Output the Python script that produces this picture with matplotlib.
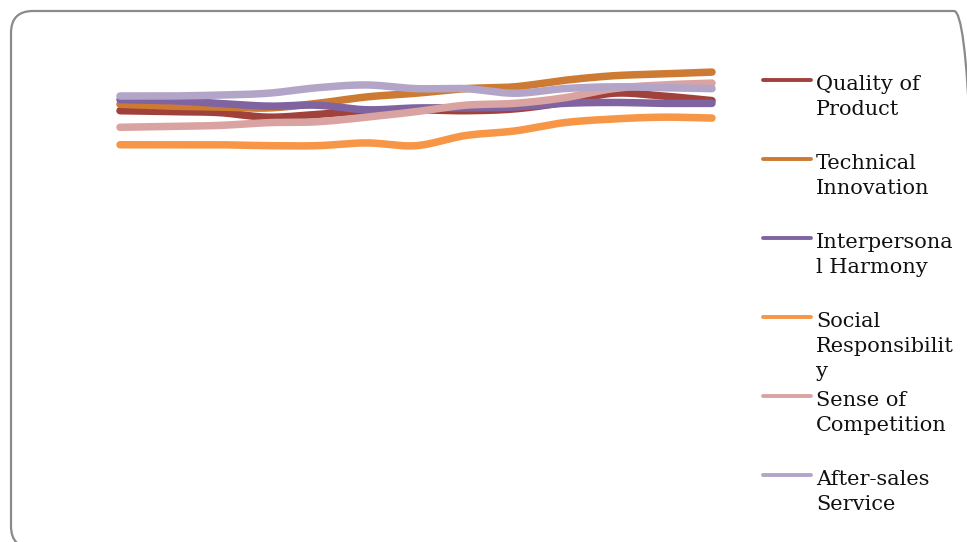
import numpy as np
import matplotlib
matplotlib.use("Agg")
import matplotlib.pyplot as plt
from matplotlib.lines import Line2D
from matplotlib.patches import FancyBboxPatch

# Survey periods (13 evenly spaced observations)
periods = list(range(13))

quality_of_product = [4.34, 4.33, 4.32, 4.27, 4.30, 4.34, 4.35, 4.34, 4.36, 4.43, 4.53, 4.50, 4.45]
technical_innovation = [4.41, 4.39, 4.38, 4.37, 4.42, 4.49, 4.53, 4.58, 4.60, 4.67, 4.72, 4.74, 4.76]
interpersonal_harmony = [4.46, 4.45, 4.42, 4.39, 4.40, 4.35, 4.37, 4.37, 4.38, 4.42, 4.43, 4.42, 4.42]
social_responsibility = [3.97, 3.97, 3.97, 3.96, 3.96, 3.99, 3.96, 4.07, 4.12, 4.21, 4.25, 4.27, 4.26]
sense_of_competition = [4.16, 4.17, 4.18, 4.21, 4.22, 4.27, 4.33, 4.40, 4.42, 4.48, 4.58, 4.62, 4.64]
after_sales_service = [4.50, 4.50, 4.51, 4.53, 4.59, 4.62, 4.58, 4.58, 4.53, 4.58, 4.60, 4.59, 4.58]

series_labels = [
    ["Quality of", "Product"],
    ["Technical", "Innovation"],
    ["Interpersona", "l Harmony"],
    ["Social", "Responsibilit", "y"],
    ["Sense of", "Competition"],
    ["After-sales", "Service"],
]
series_values = [quality_of_product, technical_innovation, interpersonal_harmony,
                 social_responsibility, sense_of_competition, after_sales_service]
series_colors = ["#A0413C", "#CD7B33", "#8064A2", "#F79646", "#D9A3A1", "#B3A5C8"]

W, H = 967, 542
fig = plt.figure(figsize=(W / 100, H / 100), dpi=100)
fig.patch.set_facecolor("white")

# Pixel-space overlay for the frame and legend (origin bottom-left)
overlay = fig.add_axes([0, 0, 1, 1], zorder=0)
overlay.set_xlim(0, W)
overlay.set_ylim(0, H)
overlay.axis("off")


def fx(px):
    return px / W


def fy(py):
    return 1 - py / H


def smooth(xs, ys, n=40):
    """Bezier smoothing through the points (tension 1/6, like spreadsheet smoothed lines)."""
    xs = np.asarray(xs, float)
    ys = np.asarray(ys, float)
    px = np.concatenate([[xs[0]], xs, [xs[-1]]])
    py = np.concatenate([[ys[0]], ys, [ys[-1]]])
    out_x, out_y = [], []
    t = np.linspace(0, 1, n)
    for i in range(1, len(px) - 2):
        p0x, p0y = px[i], py[i]
        p3x, p3y = px[i + 1], py[i + 1]
        c1x = p0x + (px[i + 1] - px[i - 1]) / 6
        c1y = p0y + (py[i + 1] - py[i - 1]) / 6
        c2x = p3x - (px[i + 2] - px[i]) / 6
        c2y = p3y - (py[i + 2] - py[i]) / 6
        b0 = (1 - t) ** 3
        b1 = 3 * (1 - t) ** 2 * t
        b2 = 3 * (1 - t) * t ** 2
        b3 = t ** 3
        out_x.append(b0 * p0x + b1 * c1x + b2 * c2x + b3 * p3x)
        out_y.append(b0 * p0y + b1 * c1y + b2 * c2y + b3 * p3y)
    return np.concatenate(out_x), np.concatenate(out_y)


# Plot area: periods span x 120..712 px, values 0..5 span y 510..50 px
ax = fig.add_axes([fx(120), fy(510), fx(712) - fx(120), fy(50) - fy(510)], zorder=1)
ax.set_xlim(0, 12)
ax.set_ylim(0, 5)
ax.axis("off")

for vals, color in zip(series_values, series_colors):
    sx, sy = smooth(periods, vals)
    ax.plot(sx, sy, color=color, lw=5.4, solid_capstyle="round",
            solid_joinstyle="round", clip_on=False)

# Legend drawn on the right
handle_y = [80, 159, 238, 317, 396, 475]
for lines, color, hy in zip(series_labels, series_colors, handle_y):
    overlay.add_line(Line2D([763, 811], [H - hy, H - hy], color=color,
                            lw=2.8, solid_capstyle="round"))
    base = hy + 10
    for k, txt in enumerate(lines):
        overlay.text(816, H - (base + 25 * k), txt, family="DejaVu Serif",
                     fontsize=15, color="#111111", va="baseline", ha="left")

# Rounded chart frame (runs off the right and bottom edges)
border = FancyBboxPatch((11, H - 548), 976 - 11, 548 - 11,
                        boxstyle="round,pad=0,rounding_size=22",
                        facecolor="none", edgecolor="#8a8a8a", lw=1.6,
                        clip_on=False)
overlay.add_patch(border)

fig.savefig("out.png", dpi=100, facecolor="white")
